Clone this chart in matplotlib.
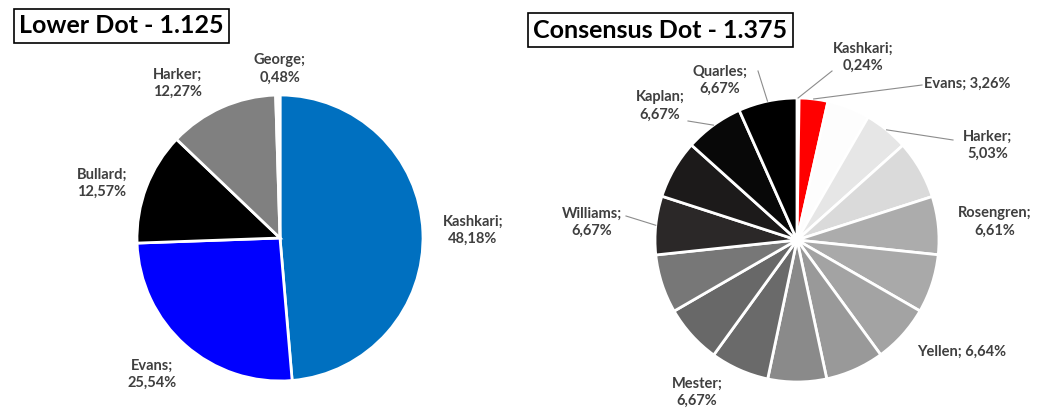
import numpy as np
import matplotlib.pyplot as plt

# Lower Dot - 1.125 (clockwise from 12 o'clock)
lower_names = ['Kashkari', 'Evans', 'Bullard', 'Harker', 'George']
lower_pct = [48.18, 25.54, 12.57, 12.27, 0.48]
lower_colors = ['#0070c0', '#0000ff', '#000000', '#808080', '#ffffff']

# Consensus Dot - 1.375 (clockwise from 12 o'clock), '' = unlabeled slice
cons_names = ['Kashkari', 'Evans', '', 'Harker', '', 'Rosengren', '', 'Yellen', '', '',
              'Mester', '', '', 'Williams', '', 'Kaplan', 'Quarles']
cons_pct = [0.24, 3.26, 4.85, 5.03, 6.67, 6.61, 6.67, 6.64, 6.67, 6.67,
            6.67, 6.67, 6.67, 6.67, 6.67, 6.67, 6.67]
cons_colors = ['#f4f4f4', '#ff0000', '#fdfdfd', '#e6e6e6', '#dadada', '#acacac', '#a9a9a9',
               '#a3a3a3', '#999999', '#8a8a8a', '#6a6a6a', '#686868', '#777777',
               '#2b2828', '#1c1a1a', '#080808', '#000000']

W, H = 1040, 419
plt.rcParams['font.family'] = ['Lato', 'DejaVu Sans']
fig = plt.figure(figsize=(W / 100, H / 100), dpi=100)


def make_ax(x0, x1, cx, cy, r):
    # axes covering pixel columns x0..x1, data unit = pie radius in px
    ax = fig.add_axes([x0 / W, 0, (x1 - x0) / W, 1])
    ax.axis('off')
    return ax


def fix_limits(ax, x0, x1, cx, cy, r):
    ax.set_xlim(-(cx - x0) / r, (x1 - cx) / r)
    ax.set_ylim(-(H - cy) / r, cy / r)
    ax.set_aspect('auto')


def to_data(px, py, cx, cy, r):
    return (px - cx) / r, (cy - py) / r


def fmt(name, v, sep='\n'):
    return name + ';' + sep + ('%.2f%%' % v).replace('.', ',')


LBL = dict(fontsize=10.5, fontweight='bold', color='#3f3f3f', linespacing=1.3)

# ---------- left pie ----------
cx, cy, r = 280, 238, 143
ax1 = make_ax(0, 520, cx, cy, r)
ax1.pie(lower_pct, colors=lower_colors, startangle=90, counterclock=False, radius=1,
        wedgeprops=dict(edgecolor='white', linewidth=2))
fix_limits(ax1, 0, 520, cx, cy, r)
left_lbl_pos = {'Kashkari': (473, 230), 'Evans': (152, 374), 'Bullard': (102, 183),
                'Harker': (178, 83), 'George': (280, 69)}
for n, v in zip(lower_names, lower_pct):
    lx, ly = to_data(*left_lbl_pos[n], cx, cy, r)
    ax1.text(lx, ly, fmt(n, v), ha='center', va='center', **LBL)
tx, ty = to_data(19, 26, cx, cy, r)
ax1.text(tx, ty, 'Lower Dot - 1.125', fontsize=18, fontweight='bold',
         ha='left', va='center', color='black',
         bbox=dict(boxstyle='square,pad=0.22', fc='white', ec='black', lw=1.2))

# ---------- right pie ----------
cx, cy, r = 797, 240, 142
ax2 = make_ax(520, 1040, cx, cy, r)
wedges, _ = ax2.pie(cons_pct, colors=cons_colors, startangle=90, counterclock=False, radius=1,
                    wedgeprops=dict(edgecolor='white', linewidth=2))
fix_limits(ax2, 520, 1040, cx, cy, r)

# label centre (px), leader line start (px) or None
right_lbl = {
    'Kashkari': ((863, 57), (832, 71)),
    'Evans': ((967, 84), (922, 85)),
    'Harker': ((988, 145), (953, 140)),
    'Rosengren': ((995, 222), None),
    'Yellen': ((962, 352), None),
    'Mester': ((697, 392), None),
    'Williams': ((592, 222), (626, 216)),
    'Kaplan': ((660, 106), (688, 121)),
    'Quarles': ((720, 80), (758, 71)),
}
one_line = ['Evans', 'Yellen']
for w, n, v in zip(wedges, cons_names, cons_pct):
    if not n:
        continue
    (px, py), lead = right_lbl[n]
    lx, ly = to_data(px, py, cx, cy, r)
    sep = ' ' if n in one_line else '\n'
    ax2.text(lx, ly, fmt(n, v, sep), ha='center', va='center', **LBL)
    if lead is not None:
        mid = np.deg2rad((w.theta1 + w.theta2) / 2)
        ex, ey = np.cos(mid), np.sin(mid)
        sx, sy = to_data(*lead, cx, cy, r)
        ax2.plot([sx, ex], [sy, ey], color='#8c8c8c', lw=0.8)
tx, ty = to_data(533, 30, cx, cy, r)
ax2.text(tx, ty, 'Consensus Dot - 1.375', fontsize=18, fontweight='bold',
         ha='left', va='center', color='black',
         bbox=dict(boxstyle='square,pad=0.22', fc='white', ec='black', lw=1.2))

fig.savefig('out.png', dpi=100, facecolor='white')
